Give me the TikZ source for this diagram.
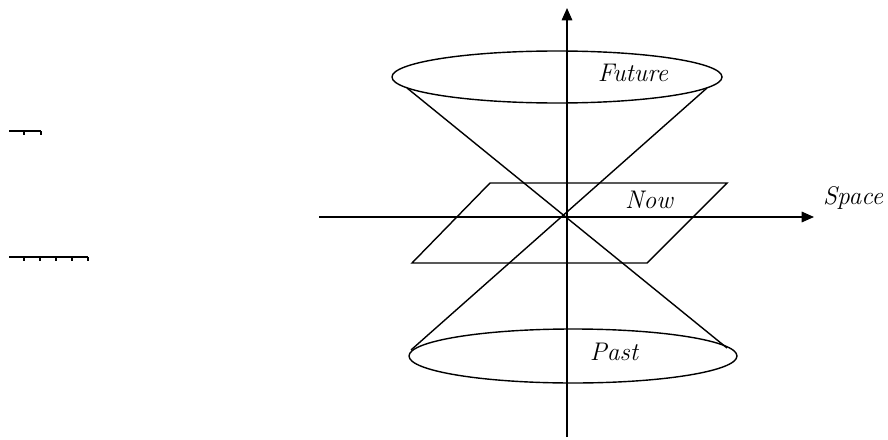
\documentclass[tikz,border=0pt]{standalone}
\usepackage{tikz}
\usetikzlibrary{arrows.meta,calc}

\begin{document}
\begin{tikzpicture}[x=0.02cm, y=-0.02cm, line width=0.8pt,
  axis/.style={-{Triangle[length=7pt,width=6pt]}},
  lbl/.style={font=\fontsize{14.5}{16}\selectfont\itshape, inner sep=1pt}]
  \useasboundingbox (0,0) rectangle (888,439);

  % axes
  \coordinate (O) at (567,217);
  \coordinate (tbot) at (567,437);
  \coordinate (ttop) at (567,8);
  \coordinate (sleft) at (319,217);
  \coordinate (sright) at (814,217);
  \draw[axis] (tbot) -- (ttop);
  \draw[axis] (sleft) -- (sright);

  % light cone
  \draw (557,77) ellipse (165 and 26);
  \draw (573,356) ellipse (164 and 27);
  \coordinate (fl) at (407,88);
  \coordinate (fr) at (707,88);
  \coordinate (pl) at (411,350);
  \coordinate (pr) at (727,348);
  \draw (fl) -- (pr);
  \draw (fr) -- (pl);

  % plane of now
  \draw (412,263) -- (647,263) -- (727,183) -- (490,183) -- cycle;

  \node[lbl] (future) at (633,73)  {Future};
  \node[lbl] (now)    at (649,200) {Now};
  \node[lbl] (past)   at (614,352) {Past};
  \node[lbl] (space)  at (853,198) {Space};

  % stray marks on the left
  \draw (9,131) -- (41,131);
  \foreach \x in {24,41} \draw (\x,131) -- (\x,135);
  \draw (9,257) -- (88,257);
  \foreach \x in {24,40,56,72,88} \draw (\x,257) -- (\x,261);
\end{tikzpicture}
\end{document}
